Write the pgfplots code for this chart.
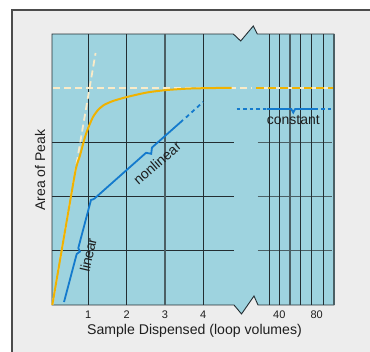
\documentclass[border=0pt]{standalone}
\usepackage{pgfplots}
\pgfplotsset{compat=1.18}
\usepackage{fontspec}
\setmainfont{Liberation Sans}
\definecolor{panel}{RGB}{237,237,237}
\definecolor{plotbg}{RGB}{158,211,223}
\definecolor{griddk}{RGB}{35,45,50}
\definecolor{gridgr}{RGB}{75,95,100}
\definecolor{orng}{RGB}{240,178,0}
\definecolor{cream}{RGB}{250,235,200}
\definecolor{blu}{RGB}{20,122,205}
\definecolor{txt}{RGB}{30,30,30}
\begin{document}
\begin{tikzpicture}
\useasboundingbox (0,0) rectangle (370bp,352bp);
\fill[white] (0,0) rectangle (370bp,352bp);
\fill[panel] (12bp,0) rectangle (370bp,342bp);
\draw[line width=1.2bp,gray!60!black] (12bp,0) -- (12bp,342bp) -- (370bp,342bp);
\begin{axis}[at={(52bp,47bp)}, anchor=south west, scale only axis,
  width=282bp, height=271bp, xmin=0.0522, xmax=7.415, ymin=0, ymax=5,
  hide axis, clip=false]
% plot background with axis break
\filldraw[fill=plotbg, draw=griddk, line width=0.9bp]
  (axis cs:0.0522,5) -- (axis cs:4.786,5) -- (axis cs:4.979,4.871) -- (axis cs:5.308,5.148)
  -- (axis cs:5.413,5) -- (axis cs:7.415,5) -- (axis cs:7.415,0) -- (axis cs:5.431,0)
  -- (axis cs:5.326,0.166) -- (axis cs:5.0,-0.166) -- (axis cs:4.804,0) -- (axis cs:0.0522,0) -- cycle;
% grid
\draw[griddk, line width=1.1bp] (axis cs:0.0522,1) -- (axis cs:4.804,1);
\draw[griddk, line width=1.1bp] (axis cs:0.0522,2) -- (axis cs:4.804,2);
\draw[griddk, line width=1.1bp] (axis cs:0.0522,3) -- (axis cs:4.804,3);
\draw[gridgr, line width=1.1bp] (axis cs:5.423,1) -- (axis cs:7.355,1);
\draw[gridgr, line width=1.1bp] (axis cs:5.423,2) -- (axis cs:7.355,2);
\draw[gridgr, line width=1.1bp] (axis cs:5.423,3) -- (axis cs:7.355,3);
\draw[griddk, line width=1.1bp] (axis cs:1,0) -- (axis cs:1,5);
\draw[griddk, line width=1.1bp] (axis cs:2,0) -- (axis cs:2,5);
\draw[gridgr, line width=1.3bp] (axis cs:3,0) -- (axis cs:3,5);
\draw[griddk, line width=1.1bp] (axis cs:4,0) -- (axis cs:4,5);
\draw[griddk, line width=1.1bp] (axis cs:5.726,0) -- (axis cs:5.726,5);
\draw[griddk, line width=1.1bp] (axis cs:5.992,0) -- (axis cs:5.992,5);
\draw[gridgr, line width=1.3bp] (axis cs:6.266,0) -- (axis cs:6.266,5);
\draw[griddk, line width=1.1bp] (axis cs:6.546,0) -- (axis cs:6.546,5);
\draw[griddk, line width=1.1bp] (axis cs:6.833,0) -- (axis cs:6.833,5);
\draw[griddk, line width=1.1bp] (axis cs:7.136,0) -- (axis cs:7.136,5);
\draw[gridgr, line width=1.1bp] (axis cs:7.415,0) -- (axis cs:7.415,5);
% cream dashed guides
\addplot[cream, line width=1.8bp, dash pattern=on 7bp off 4bp] coordinates {(0.06,0) (1.19,4.65)};
\addplot[cream, line width=1.8bp, dash pattern=on 7bp off 4bp] coordinates {(0.08,4.004) (5.27,4.004)};
\addplot[cream, line width=1.8bp] coordinates {(5.379,4.004) (7.40,4.004)};
% orange response curve
\addplot[orng, line width=2bp, smooth, tension=0.4] coordinates {
 (0.06,0) (0.62,2.30) (0.70,2.58) (0.783,2.76) (0.914,3.10) (1.018,3.303)
 (1.123,3.469) (1.253,3.598) (1.410,3.690) (1.645,3.764) (2.010,3.838)
 (2.533,3.921) (3.055,3.967) (3.655,3.994) (4.360,4.004) (4.74,4.004)};
\addplot[orng, line width=2bp, dash pattern=on 8bp off 4bp] coordinates {(5.379,4.004) (7.40,4.004)};
% blue braces
\addplot[blu, line width=1.8bp] coordinates {
 (0.366,0.055) (0.697,0.941) (0.781,0.985) (0.739,1.052) (1.070,1.937) (1.149,1.956)};
\addplot[blu, line width=1.8bp] coordinates {
 (1.149,1.956) (2.507,2.808) (2.642,2.790) (2.663,2.906) (3.473,3.413)};
\addplot[blu, line width=1.8bp, dash pattern=on 4bp off 3.5bp] coordinates {(3.55,3.46) (3.995,3.745)};
\addplot[blu, line width=1.8bp, dash pattern=on 3.5bp off 3bp] coordinates {(4.875,3.616) (7.40,3.616)};
\addplot[blu, line width=1.8bp] coordinates {
 (5.658,3.616) (6.30,3.616) (6.352,3.55) (6.40,3.616) (6.919,3.616)};
% labels
\node[txt, font=\fontsize{14bp}{16bp}\selectfont, rotate=77] at (axis cs:1.0,0.92) {linear};
\node[txt, font=\fontsize{14bp}{16bp}\selectfont, rotate=41] at (axis cs:2.794,2.62) {nonlinear};
\node[txt, font=\fontsize{14bp}{16bp}\selectfont] at (axis cs:6.352,3.413) {constant};
% tick labels
\node[txt, font=\fontsize{11bp}{13bp}\selectfont] at (axis cs:1,-0.185) {1};
\node[txt, font=\fontsize{11bp}{13bp}\selectfont] at (axis cs:2,-0.185) {2};
\node[txt, font=\fontsize{11bp}{13bp}\selectfont] at (axis cs:3,-0.185) {3};
\node[txt, font=\fontsize{11bp}{13bp}\selectfont] at (axis cs:4,-0.185) {4};
\node[txt, font=\fontsize{11bp}{13bp}\selectfont] at (axis cs:5.987,-0.185) {40};
\node[txt, font=\fontsize{11bp}{13bp}\selectfont] at (axis cs:6.963,-0.185) {80};
\node[txt, font=\fontsize{14.1bp}{17bp}\selectfont] at (axis cs:3.773,-0.48) {Sample Dispensed (loop volumes)};
\node[txt, font=\fontsize{14bp}{17bp}\selectfont, rotate=90] at (axis cs:-0.261,2.49) {Area of Peak};
\end{axis}
\end{tikzpicture}
\end{document}
